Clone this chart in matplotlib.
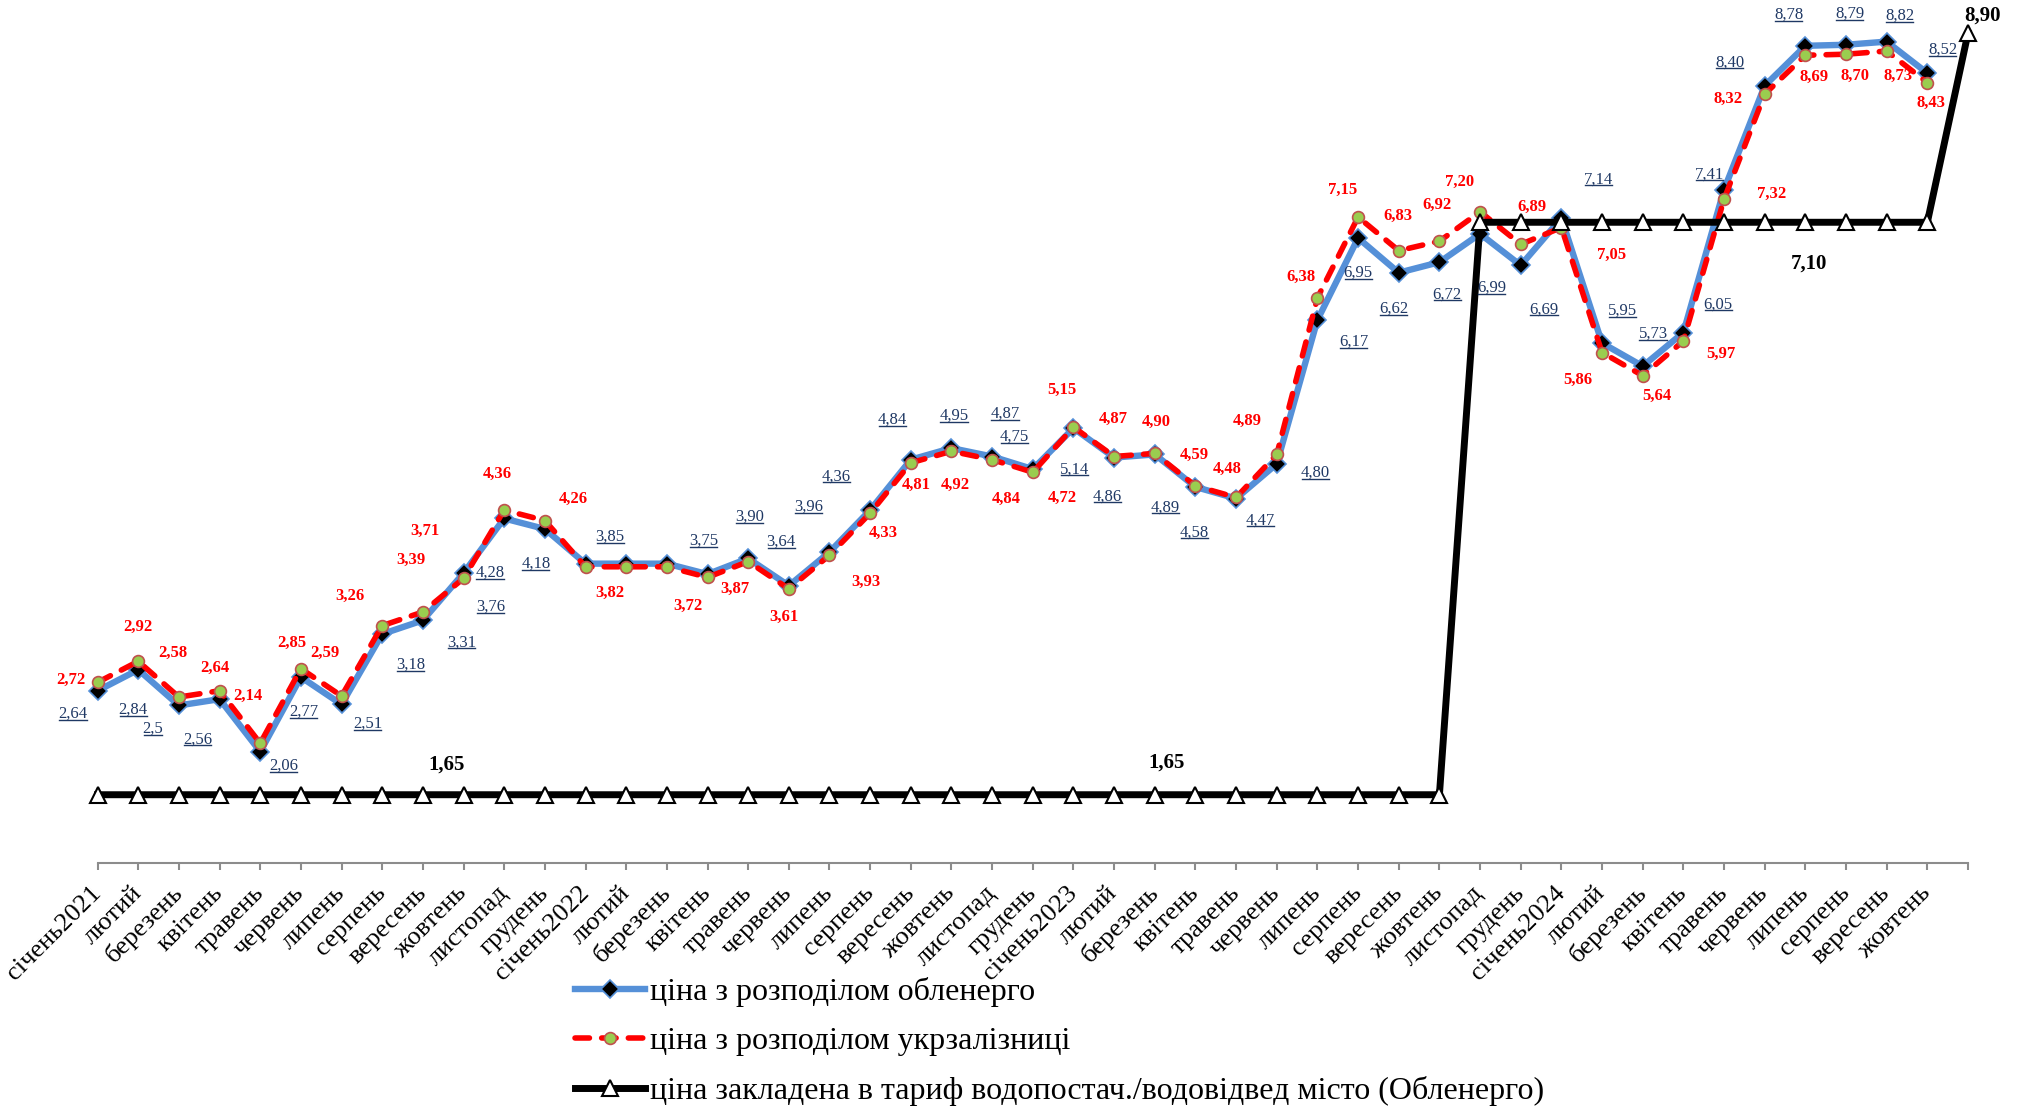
import numpy as np
import matplotlib
matplotlib.use("Agg")
import matplotlib.pyplot as plt
from matplotlib.lines import Line2D

plt.rcParams['font.family'] = ['Liberation Serif', 'DejaVu Serif']

# Data
months = ['січень2021', 'лютий', 'березень', 'квітень', 'травень', 'червень', 'липень',
          'серпень', 'вересень', 'жовтень', 'листопад', 'грудень',
          'січень2022', 'лютий', 'березень', 'квітень', 'травень', 'червень', 'липень',
          'серпень', 'вересень', 'жовтень', 'листопад', 'грудень',
          'січень2023', 'лютий', 'березень', 'квітень', 'травень', 'червень', 'липень',
          'серпень', 'вересень', 'жовтень', 'листопад', 'грудень',
          'січень2024', 'лютий', 'березень', 'квітень', 'травень', 'червень', 'липень',
          'серпень', 'вересень', 'жовтень', '']

oblenergo = [2.64, 2.84, 2.50, 2.56, 2.06, 2.77, 2.51, 3.18, 3.31, 3.76, 4.28, 4.18,
             3.85, 3.85, 3.85, 3.75, 3.90, 3.64, 3.96, 4.36, 4.84, 4.95, 4.87, 4.75,
             5.14, 4.86, 4.89, 4.58, 4.47, 4.80, 6.17, 6.95, 6.62, 6.72, 6.99, 6.69,
             7.14, 5.95, 5.73, 6.05, 7.41, 8.40, 8.78, 8.79, 8.82, 8.52]

ukrzaliznytsia = [2.72, 2.92, 2.58, 2.64, 2.14, 2.85, 2.59, 3.26, 3.39, 3.71, 4.36, 4.26,
                  3.82, 3.82, 3.82, 3.72, 3.87, 3.61, 3.93, 4.33, 4.81, 4.92, 4.84, 4.72,
                  5.15, 4.87, 4.90, 4.59, 4.48, 4.89, 6.38, 7.15, 6.83, 6.92, 7.20, 6.89,
                  7.05, 5.86, 5.64, 5.97, 7.32, 8.32, 8.69, 8.70, 8.73, 8.43]

tariff = [1.65, 1.65, 1.65, 1.65, 1.65, 1.65, 1.65, 1.65, 1.65, 1.65, 1.65, 1.65,
          1.65, 1.65, 1.65, 1.65, 1.65, 1.65, 1.65, 1.65, 1.65, 1.65, 1.65, 1.65,
          1.65, 1.65, 1.65, 1.65, 1.65, 1.65, 1.65, 1.65, 1.65, 1.65, 7.10, 7.10,
          7.10, 7.10, 7.10, 7.10, 7.10, 7.10, 7.10, 7.10, 7.10, 7.10, 8.90]

# which tariff points carry a label
tariff_labelled = [9, 26, 42, 46]

series_names = ['ціна з розподілом обленерго',
                'ціна з розподілом укрзалізниці',
                'ціна закладена в тариф водопостач./водовідвед місто (Обленерго)']

# label offsets (px, +dy = down); None = no label
blue_off = [(-19, 18), (-4, 31), (-20, 18), (-17, 31), (18, 11), (2, 27), (20, 15), (22, 24),
            (30, 17), (21, 26), (-11, 42), (-7, 27), (19, -21), None, None, (-3, -26),
            (1, -32), (-6, -34), (-16, -35), (-26, -26), (-14, -31), (2, -25), (10, -33), (-14, -25),
            (1, 32), (-5, 30), (8, 41), (-1, 35), (19, 17), (30, 7), (28, 17), (0, 27),
            (-4, 28), (6, 25), (9, 42), (18, 34), (29, -30), (16, -25), (8, -25), (27, -22),
            (-11, -12), (-27, -18), (-13, -24), (3, -24), (10, -20), (12, -18)]
red_off = [(-21, -2), (0, -27), (-5, -34), (-4, -18), (-10, -37), (-7, -20), (-13, -33), (-25, -23),
           (-9, -40), (-30, -37), (-5, -28), (22, -17), (19, 20), None, None, (-15, 22),
           (-10, 21), (-4, 22), (28, 21), (10, 15), (4, 17), (3, 26), (11, 30), (23, 20),
           (-9, -29), (-1, -29), (1, -24), (-1, -24), (-7, -22), (-23, -26), (-13, -16), (-12, -21),
           (-1, -27), (-2, -28), (-16, -23), (9, -29), (39, 21), (-19, 21), (11, 16), (29, 10),
           (37, -4), (-28, 4), (7, 17), (7, 17), (9, 19), (3, 16)]
black_off = [(-13, -23), (9, -25), (3, 32), (11, -14)]

W, H = 2026, 1107
fig = plt.figure(figsize=(W / 100, H / 100), dpi=100)
ax = fig.add_axes([97.6 / W, 1 - 863 / H, (1968 - 97.6) / W, (863 - 22.7) / H])

x = np.arange(len(months))
xb = x[:len(oblenergo)]

l1, = ax.plot(xb, oblenergo, color='#5590D8', lw=4.6, marker='D', ms=9.5,
              mfc='black', mec='#5590D8', mew=1.2, zorder=3, clip_on=False)
l2, = ax.plot(xb, ukrzaliznytsia, color='#FF0000', lw=4, dashes=(2.6, 2.2),
              dash_capstyle='round', marker='o', ms=8.5, mfc='#9ACD4F', mec='#C0504D',
              mew=1.2, zorder=4, clip_on=False)
l3, = ax.plot(x, tariff, color='black', lw=5, marker='^', ms=11, mfc='white',
              mec='black', mew=1.5, zorder=5, clip_on=False)

k = 1.2917 * 0.72  # reference px -> points
blue_texts = []
for i, v in enumerate(oblenergo):
    if blue_off[i] is None:
        continue
    dx, dy = blue_off[i]
    t = ax.annotate(f'{v:.2f}'.replace('.', ',') if v != 2.5 else '2,5', (i, v),
                    xytext=(dx * k, -dy * k), textcoords='offset points',
                    ha='center', va='center', fontsize=12, color='#1F3864', zorder=6)
    blue_texts.append(t)
for i, v in enumerate(ukrzaliznytsia):
    if red_off[i] is None:
        continue
    dx, dy = red_off[i]
    ax.annotate(f'{v:.2f}'.replace('.', ','), (i, v), xytext=(dx * k, -dy * k),
                textcoords='offset points', ha='center', va='center', fontsize=12,
                fontweight='bold', color='#FF0000', zorder=6)
for j, i in enumerate(tariff_labelled):
    dx, dy = black_off[j]
    ax.annotate(f'{tariff[i]:.2f}'.replace('.', ','), (i, tariff[i]), xytext=(dx * k, -dy * k),
                textcoords='offset points', ha='center', va='center', fontsize=15,
                fontweight='bold', color='black', zorder=6)

ax.set_xlim(0, len(months) - 1)
ax.set_ylim(1.0, 9.0)
for s in ['left', 'right', 'top']:
    ax.spines[s].set_visible(False)
ax.spines['bottom'].set_color('#8C8C8C')
ax.spines['bottom'].set_linewidth(1.5)
ax.set_yticks([])
ax.set_xticks(x)
ax.set_xticklabels(months, rotation=45, ha='right', va='center', rotation_mode='anchor',
                   fontsize=19)
ax.tick_params(axis='x', direction='out', length=5, width=1.5, color='#8C8C8C', pad=14)

fig.legend(handles=[l1, l2, l3], labels=series_names, loc='upper left',
           bbox_to_anchor=(575 / W, 1 - 977 / H), frameon=False, fontsize=23,
           handlelength=2.2, handletextpad=0.15, labelspacing=0.62, borderpad=0,
           borderaxespad=0, numpoints=1)

# underline the обленерго labels
fig.canvas.draw()
r = fig.canvas.get_renderer()
inv = fig.transFigure.inverted()
for t in blue_texts:
    bb = t.get_window_extent(renderer=r)
    (x0, y0), (x1, _) = inv.transform([[bb.x0 + 1, bb.y0 + 2], [bb.x1 - 1, bb.y0 + 2]])
    fig.add_artist(Line2D([x0, x1], [y0, y0], color='#1F3864', lw=1.0))

fig.savefig('out.png', dpi=100)
